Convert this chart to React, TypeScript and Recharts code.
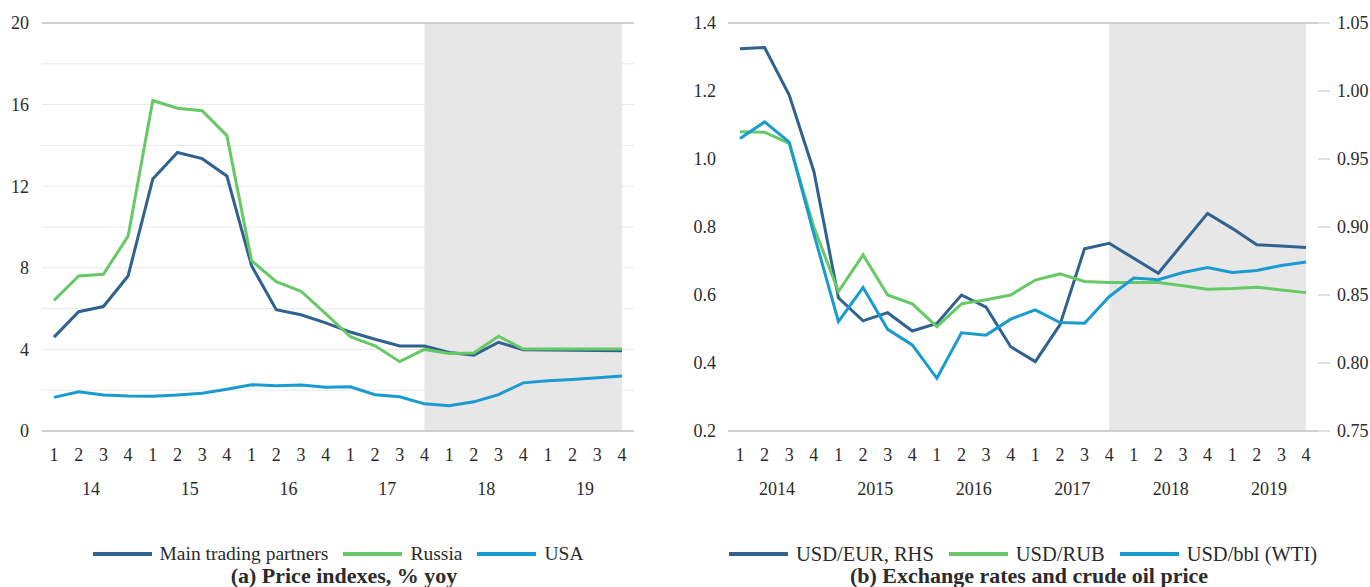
import React from 'react';
import {
  LineChart,
  Line,
  XAxis,
  YAxis,
  CartesianGrid,
  ReferenceArea,
  ReferenceLine,
  Legend,
} from 'recharts';

const FONT = '"Liberation Serif", "DejaVu Serif", "Noto Serif", Tinos, serif';
const TEXT = '#2b2b2b';
const GRID = '#e9e9e9';
const AXIS = '#c4c4c4';
const SHADE = '#e7e7e7';
const DARK_BLUE = '#30628f';
const GREEN = '#66c966';
const LIGHT_BLUE = '#1a9bd0';

// quarters and years
const quarters = ['1', '2', '3', '4'];
const yearsShort = ['14', '15', '16', '17', '18', '19'];
const yearsLong = ['2014', '2015', '2016', '2017', '2018', '2019'];

// (a) price indexes, % yoy
const mainPartners = [4.6, 5.85, 6.1, 7.6, 12.35, 13.65, 13.35, 12.5, 8.1, 5.95, 5.7, 5.3, 4.85, 4.5, 4.17, 4.17, 3.85, 3.72, 4.35, 3.98, 3.97, 3.96, 3.95, 3.93];
const russia = [6.4, 7.6, 7.68, 9.55, 16.2, 15.82, 15.7, 14.48, 8.35, 7.32, 6.85, 5.75, 4.62, 4.18, 3.4, 4.0, 3.8, 3.82, 4.65, 4.02, 4.02, 4.02, 4.02, 4.02];
const usa = [1.65, 1.92, 1.76, 1.71, 1.7, 1.77, 1.85, 2.05, 2.27, 2.22, 2.25, 2.14, 2.17, 1.78, 1.68, 1.33, 1.24, 1.43, 1.78, 2.36, 2.46, 2.53, 2.61, 2.7];
const ticksA = [0, 2, 4, 6, 8, 10, 12, 14, 16, 18, 20];

// (b) exchange rates and crude oil price
const usdEur = [1.031, 1.032, 0.997, 0.941, 0.848, 0.831, 0.837, 0.8235, 0.829, 0.85, 0.841, 0.812, 0.801, 0.828, 0.884, 0.888, 0.877, 0.866, 0.888, 0.91, 0.899, 0.887, 0.886, 0.885];
const usdRub = [1.08, 1.079, 1.046, 0.8, 0.61, 0.718, 0.6, 0.574, 0.507, 0.574, 0.586, 0.6, 0.644, 0.662, 0.64, 0.637, 0.637, 0.637, 0.627, 0.617, 0.619, 0.623, 0.615, 0.607];
const wti = [1.06, 1.109, 1.05, 0.78, 0.522, 0.622, 0.499, 0.453, 0.355, 0.489, 0.482, 0.529, 0.556, 0.519, 0.517, 0.595, 0.65, 0.645, 0.666, 0.681, 0.666, 0.672, 0.687, 0.697];
const ticksLeftB = [0.2, 0.4, 0.6, 0.8, 1.0, 1.2, 1.4];
const ticksRightB = [0.75, 0.8, 0.85, 0.9, 0.95, 1.0, 1.05];

const buildKeys = (years: string[]) => years.flatMap((y) => quarters.map((q) => `${y}Q${q}`));

const keysA = buildKeys(yearsShort);
const keysB = buildKeys(yearsLong);

const dataA = keysA.map((k, i) => ({ k, main: mainPartners[i], russia: russia[i], usa: usa[i] }));
const dataB = keysB.map((k, i) => ({ k, eur: usdEur[i], rub: usdRub[i], wti: wti[i] }));

const QuarterTick = (props: any) => {
  const { x, y, payload, halfStep } = props;
  const [year, q] = String(payload.value).split('Q');
  return (
    <g>
      <text x={x} y={y + 24} textAnchor="middle" dominantBaseline="central" fontSize={18} fill={TEXT} style={{ fontFamily: FONT }}>
        {q}
      </text>
      {q === '2' && (
        <text x={x + halfStep} y={y + 58} textAnchor="middle" dominantBaseline="central" fontSize={18} fill={TEXT} style={{ fontFamily: FONT }}>
          {year}
        </text>
      )}
    </g>
  );
};

const makeLegend = (title: string, size: number) => (props: any) => {
  const { payload = [] } = props;
  return (
    <div style={{ height: 64, fontFamily: FONT, color: TEXT }}>
      <div style={{ display: 'flex', justifyContent: 'center', alignItems: 'center', paddingTop: 20, height: 22, fontSize: size }}>
        {payload.map((p: any, i: number) => (
          <div key={i} style={{ display: 'flex', alignItems: 'center', marginLeft: i ? 15 : 0 }}>
            <span style={{ display: 'inline-block', width: 59, height: 4, background: p.color, marginRight: 8 }} />
            <span>{p.value}</span>
          </div>
        ))}
      </div>
      <div style={{ textAlign: 'center', fontWeight: 700, fontSize: 22, lineHeight: '22px', paddingLeft: 12 }}>{title}</div>
    </div>
  );
};

const tickStyle = { fontSize: 18, fill: TEXT, style: { fontFamily: FONT } };

export default function App() {
  return (
    <div style={{ position: 'absolute', left: 0, top: 0, width: 1370, height: 587, background: '#fff', fontFamily: FONT }}>
      <div style={{ position: 'absolute', left: 0, top: 0 }}>
        <LineChart width={680} height={587} data={dataA} margin={{ top: 23, right: 46, bottom: 0, left: 0 }} style={{ fontFamily: FONT }}>
          <CartesianGrid horizontal vertical={false} stroke={GRID} />
          <XAxis
            dataKey="k"
            interval={0}
            height={92}
            padding={{ left: 12, right: 12 }}
            tickLine={false}
            tickSize={0}
            tickMargin={0}
            axisLine={{ stroke: AXIS, strokeWidth: 1.5 }}
            tick={(p: any) => <QuarterTick {...p} halfStep={12.33} />}
          />
          <YAxis
            width={42}
            domain={[0, 20]}
            ticks={ticksA}
            interval={0}
            axisLine={false}
            tickLine={false}
            tickSize={0}
            tickMargin={13}
            tick={tickStyle}
            tickFormatter={(v: number) => (v % 4 === 0 ? String(v) : '')}
          />
          <ReferenceArea x1={keysA[15]} x2={keysA[23]} y1={0} y2={20} fill={SHADE} fillOpacity={1} stroke="none" />
          <ReferenceLine y={20} stroke={AXIS} strokeWidth={1.5} />
          <Legend verticalAlign="bottom" wrapperStyle={{ left: 42, width: 592 }} content={makeLegend('(a) Price indexes, % yoy', 19.5)} />
          <Line type="linear" dataKey="main" name="Main trading partners" stroke={DARK_BLUE} strokeWidth={3} dot={false} isAnimationActive={false} />
          <Line type="linear" dataKey="russia" name="Russia" stroke={GREEN} strokeWidth={3} dot={false} isAnimationActive={false} />
          <Line type="linear" dataKey="usa" name="USA" stroke={LIGHT_BLUE} strokeWidth={3} dot={false} isAnimationActive={false} />
        </LineChart>
      </div>
      <div style={{ position: 'absolute', left: 680, top: 0 }}>
        <LineChart width={690} height={587} data={dataB} margin={{ top: 23, right: 0, bottom: 0, left: 0 }} style={{ fontFamily: FONT }}>
          <CartesianGrid horizontal vertical={false} stroke={GRID} />
          <XAxis
            dataKey="k"
            interval={0}
            height={92}
            padding={{ left: 12, right: 12 }}
            tickLine={false}
            tickSize={0}
            tickMargin={0}
            axisLine={{ stroke: AXIS, strokeWidth: 1.5 }}
            tick={(p: any) => <QuarterTick {...p} halfStep={12.29} />}
          />
          <YAxis
            yAxisId="left"
            width={48}
            domain={[0.2, 1.4]}
            ticks={ticksLeftB}
            interval={0}
            axisLine={false}
            tickLine={false}
            tickSize={0}
            tickMargin={12}
            tick={tickStyle}
            tickFormatter={(v: number) => v.toFixed(1)}
          />
          <YAxis
            yAxisId="right"
            orientation="right"
            width={52}
            domain={[0.75, 1.05]}
            ticks={ticksRightB}
            interval={0}
            axisLine={false}
            tickLine={{ stroke: AXIS }}
            tickSize={12}
            tickMargin={7}
            tick={{ ...tickStyle, textAnchor: 'start' }}
            tickFormatter={(v: number) => v.toFixed(2)}
          />
          <ReferenceArea yAxisId="left" x1={keysB[15]} x2={keysB[23]} y1={0.2} y2={1.4} fill={SHADE} fillOpacity={1} stroke="none" />
          <ReferenceLine yAxisId="left" y={1.4} stroke={AXIS} strokeWidth={1.5} />
          <Legend verticalAlign="bottom" wrapperStyle={{ left: 48, width: 590 }} content={makeLegend('(b) Exchange rates and crude oil price', 20.5)} />
          <Line yAxisId="right" type="linear" dataKey="eur" name="USD/EUR, RHS" stroke={DARK_BLUE} strokeWidth={3} dot={false} isAnimationActive={false} />
          <Line yAxisId="left" type="linear" dataKey="rub" name="USD/RUB" stroke={GREEN} strokeWidth={3} dot={false} isAnimationActive={false} />
          <Line yAxisId="left" type="linear" dataKey="wti" name="USD/bbl (WTI)" stroke={LIGHT_BLUE} strokeWidth={3} dot={false} isAnimationActive={false} />
        </LineChart>
      </div>
    </div>
  );
}
